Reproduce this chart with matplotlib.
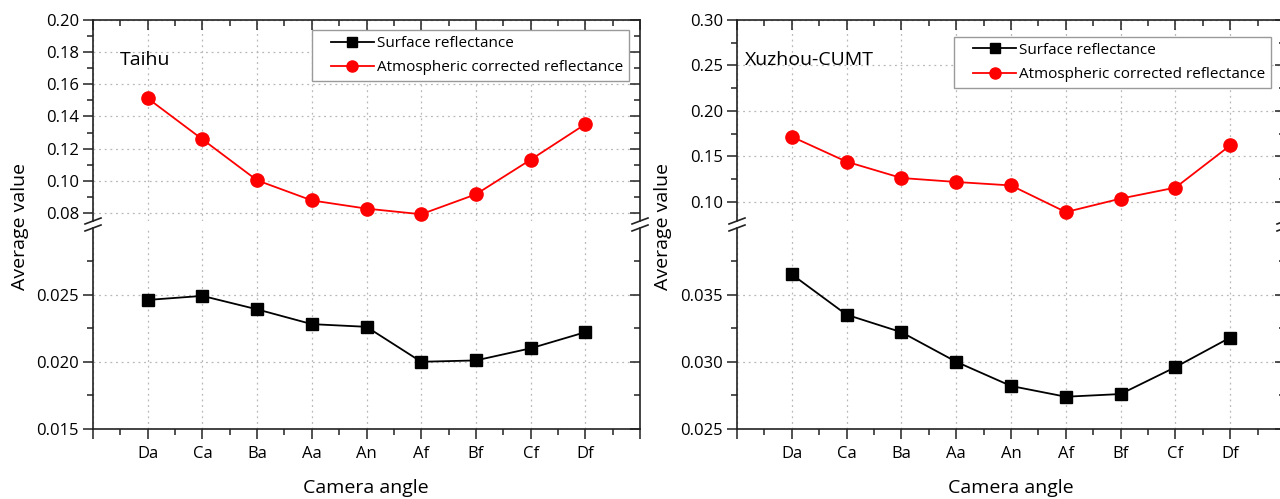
import matplotlib
matplotlib.use("Agg")
import matplotlib.pyplot as plt
from matplotlib.ticker import MultipleLocator, FormatStrFormatter
from matplotlib.lines import Line2D
from matplotlib.legend_handler import HandlerLine2D

plt.rcParams['font.family'] = ['Open Sans', 'DejaVu Sans']

# data
categories = ["Da", "Ca", "Ba", "Aa", "An", "Af", "Bf", "Cf", "Df"]
taihu_surface = [0.0246, 0.0249, 0.0239, 0.0228, 0.0226, 0.0200, 0.0201, 0.0210, 0.0222]
taihu_atm = [0.1513, 0.1258, 0.1003, 0.0878, 0.0827, 0.0792, 0.0916, 0.1131, 0.1352]
xuzhou_surface = [0.0365, 0.0335, 0.0322, 0.0300, 0.0282, 0.0274, 0.0276, 0.0296, 0.0318]
xuzhou_atm = [0.1717, 0.1442, 0.1263, 0.1219, 0.1181, 0.0888, 0.1036, 0.1157, 0.1621]

W, H = 1280, 499
fig = plt.figure(figsize=(W / 100, H / 100), dpi=100)

spine_c = "#222222"
grid_kw = dict(color="#b8b8b8", linestyle=(0, (1.5, 3)), linewidth=0.9)


class PadHandler(HandlerLine2D):
    # leaves some empty room left of the legend line, like Origin does
    def create_artists(self, legend, orig_handle, xdescent, ydescent,
                       width, height, fontsize, trans):
        pad = 0.85 * fontsize
        return super().create_artists(legend, orig_handle, xdescent - pad, ydescent,
                                      width - pad, height, fontsize, trans)


def px(x0, y0, x1, y1):
    # pixel box -> figure fraction rect
    return [x0 / W, 1 - y1 / H, (x1 - x0) / W, (y1 - y0) / H]


def style_axis(ax, upper):
    for s in ax.spines.values():
        s.set_color(spine_c)
        s.set_linewidth(1.2)
    ax.set_xlim(0, 10)
    ax.xaxis.set_major_locator(MultipleLocator(1))
    ax.xaxis.set_minor_locator(MultipleLocator(0.5))
    ax.tick_params(axis="y", which="both", left=True, right=True, labelsize=12,
                   color=spine_c, width=1.1, pad=3, direction="out")
    ax.tick_params(axis="y", which="major", length=7)
    ax.tick_params(axis="y", which="minor", length=4)
    if upper:
        ax.spines["bottom"].set_visible(False)
        ax.tick_params(axis="x", which="both", bottom=False, top=True,
                       labelbottom=False, direction="in", color=spine_c, width=1.1)
    else:
        ax.spines["top"].set_visible(False)
        ax.tick_params(axis="x", which="both", bottom=True, top=False,
                       direction="out", color=spine_c, width=1.1, labelsize=12, pad=5)
    ax.tick_params(axis="x", which="major", length=7)
    ax.tick_params(axis="x", which="minor", length=4)
    ax.grid(True, which="major", **grid_kw)
    ax.set_axisbelow(True)
    ax.set_xticks(range(0, 11))
    ax.set_xticklabels([""] + categories + [""])
    # right side ticks pointing inward
    for t in ax.yaxis.get_major_ticks() + ax.yaxis.get_minor_ticks():
        t.tick2line.set_marker(matplotlib.markers.TICKLEFT)


def panel(x0, x1, title, title_x, surf, atm, up_lim, up_major, low_lim, legend_anchor):
    ax_up = fig.add_axes(px(x0, 20, x1, 221))
    ax_lo = fig.add_axes(px(x0, 228, x1, 429))
    xs = list(range(1, len(categories) + 1))

    ax_up.plot(xs, atm, color="red", marker="o", markersize=9.5, linewidth=1.3,
               zorder=3)
    ax_lo.plot(xs, surf, color="black", marker="s", markersize=8.5, linewidth=1.3,
               zorder=3)

    ax_up.set_ylim(*up_lim)
    ax_up.yaxis.set_major_locator(MultipleLocator(up_major))
    ax_up.yaxis.set_minor_locator(MultipleLocator(up_major / 2))
    ax_up.yaxis.set_major_formatter(FormatStrFormatter("%.2f"))

    ax_lo.set_ylim(*low_lim)
    ax_lo.yaxis.set_major_locator(MultipleLocator(0.005))
    ax_lo.yaxis.set_minor_locator(MultipleLocator(0.0025))
    ax_lo.yaxis.set_major_formatter(FormatStrFormatter("%.3f"))

    style_axis(ax_up, True)
    style_axis(ax_lo, False)

    ax_up.text(title_x, 0.80, title, transform=ax_up.transAxes,
               fontsize=14, va="center", ha="left")

    handles = [
        Line2D([], [], color="black", marker="s", markersize=7, linewidth=1.3),
        Line2D([], [], color="red", marker="o", markersize=8, linewidth=1.3),
    ]
    leg = ax_up.legend(handles, ["Surface reflectance", "Atmospheric corrected reflectance"],
                       loc="upper right", bbox_to_anchor=legend_anchor, borderaxespad=0,
                       fontsize=11, frameon=True, fancybox=False, framealpha=1,
                       edgecolor="#9a9a9a", handlelength=3.66, handletextpad=0.2,
                       borderpad=0.0, labelspacing=0.6,
                       handler_map={Line2D: PadHandler()})
    leg.get_frame().set_boxstyle("square", pad=0.38)
    leg.get_frame().set_linewidth(1.0)

    # axis break marks on both vertical spines
    for xp in (x0, x1):
        for yp in (221, 228):
            fig.add_artist(Line2D([(xp - 8) / W, (xp + 8) / W],
                                  [1 - (yp + 3) / H, 1 - (yp - 3) / H],
                                  color=spine_c, linewidth=1.2))
    return ax_up, ax_lo


panel(93, 640, "Taihu", 0.049, taihu_surface, taihu_atm, (0.075, 0.20), 0.02,
      (0.015, 0.02995), (0.969, 0.921))
panel(737, 1285, "Xuzhou-CUMT", 0.015, xuzhou_surface, xuzhou_atm, (0.079, 0.30), 0.05,
      (0.025, 0.03995), (0.964, 0.887))

for cx in (366, 1011):
    fig.text(cx / W, 1 - 488 / H, "Camera angle", ha="center", va="center", fontsize=14)
for lx in (20, 663):
    fig.text(lx / W, 1 - 226 / H, "Average value", ha="center", va="center",
             rotation=90, fontsize=14)

fig.savefig("out.png", dpi=100)
